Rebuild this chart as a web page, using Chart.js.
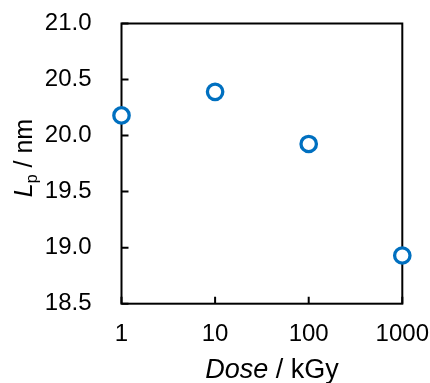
<!DOCTYPE html>
<html>
<head>
<meta charset="utf-8">
<script src="https://cdn.jsdelivr.net/npm/chart.js@4"></script>
<style>
  html, body { margin: 0; padding: 0; background: #fff; }
  #wrap { width: 430px; height: 383px; }
</style>
</head>
<body>
<div id="wrap"><canvas id="c" width="430" height="383"></canvas></div>
<script>
// ---- data ----
const doses = [1, 10, 100, 1000];
const lpValues = [20.18, 20.39, 19.925, 18.93];
const xTickValues = [1, 10, 100, 1000];
const xTickLabels = ["1", "10", "100", "1000"];
const yTickValues = [18.5, 19.0, 19.5, 20.0, 20.5, 21.0];
const yTickLabels = ["18.5", "19.0", "19.5", "20.0", "20.5", "21.0"];

const FONT = "'Liberation Sans', Arial, sans-serif";

const framePlugin = {
  id: 'frame',
  beforeDatasetsDraw(chart) {
    const { ctx, chartArea: a, scales } = chart;
    ctx.save();
    ctx.strokeStyle = '#000';
    ctx.lineWidth = 2;
    ctx.strokeRect(a.left, a.top, a.right - a.left, a.bottom - a.top);
    ctx.beginPath();
    yTickValues.forEach(v => {
      const y = scales.y.getPixelForValue(v);
      ctx.moveTo(a.left, y);
      ctx.lineTo(a.left + 7, y);
    });
    xTickValues.forEach(v => {
      const x = scales.x.getPixelForValue(v);
      ctx.moveTo(x, a.bottom);
      ctx.lineTo(x, a.bottom - 7);
    });
    ctx.stroke();
    ctx.restore();
  },
  afterDraw(chart) {
    const { ctx } = chart;
    ctx.save();
    ctx.fillStyle = '#000';
    ctx.textBaseline = 'alphabetic';
    ctx.textAlign = 'left';
    const xParts = [
      { t: 'Dose', f: 'italic 27px ' + FONT, dy: 0 },
      { t: ' / kGy', f: '27px ' + FONT, dy: 0 }
    ];
    let w = 0;
    xParts.forEach(p => { ctx.font = p.f; p.w = ctx.measureText(p.t).width; w += p.w; });
    let x = 272 - w / 2;
    xParts.forEach(p => { ctx.font = p.f; ctx.fillText(p.t, x, 378 + p.dy); x += p.w; });
    const yParts = [
      { t: 'L', f: 'italic 25px ' + FONT, dy: 0 },
      { t: 'p', f: '16px ' + FONT, dy: 5 },
      { t: ' / nm', f: '25px ' + FONT, dy: 0 }
    ];
    w = 0;
    yParts.forEach(p => { ctx.font = p.f; p.w = ctx.measureText(p.t).width; w += p.w; });
    ctx.translate(32, 158);
    ctx.rotate(-Math.PI / 2);
    x = -w / 2;
    yParts.forEach(p => { ctx.font = p.f; ctx.fillText(p.t, x, p.dy); x += p.w; });
    ctx.restore();
  }
};

const hiddenTicks = (len) => ({
  display: true,
  drawOnChartArea: false,
  drawTicks: true,
  tickLength: len,
  tickColor: 'rgba(0,0,0,0)',
  color: 'rgba(0,0,0,0)'
});

new Chart(document.getElementById('c'), {
  type: 'scatter',
  data: {
    datasets: [{
      data: doses.map((d, i) => ({ x: d, y: lpValues[i] })),
      pointRadius: 7.7,
      pointHoverRadius: 7.7,
      pointBorderWidth: 3.3,
      pointBorderColor: '#0070C0',
      pointBackgroundColor: '#ffffff',
      showLine: false,
      clip: false
    }]
  },
  options: {
    responsive: false,
    animation: false,
    devicePixelRatio: 1,
    layout: { padding: { left: 0, top: 23.5, right: 27.7, bottom: 0 } },
    plugins: { legend: { display: false }, tooltip: { enabled: false } },
    scales: {
      x: {
        type: 'logarithmic',
        min: 1,
        max: 1000,
        afterBuildTicks(scale) { scale.ticks = xTickValues.map(v => ({ value: v })); },
        afterFit(scale) { scale.height = 79.3; },
        grid: hiddenTicks(16),
        border: { display: false },
        ticks: {
          padding: 0,
          color: '#000',
          font: { family: FONT, size: 24 },
          maxRotation: 0,
          autoSkip: false,
          callback(v) { const i = xTickValues.indexOf(v); return i >= 0 ? xTickLabels[i] : ''; }
        }
      },
      y: {
        type: 'linear',
        min: 18.5,
        max: 21.0,
        afterBuildTicks(scale) { scale.ticks = yTickValues.map(v => ({ value: v })); },
        afterFit(scale) { scale.width = 121.5; },
        grid: hiddenTicks(30),
        border: { display: false },
        ticks: {
          padding: 0,
          color: '#000',
          font: { family: FONT, size: 24 },
          autoSkip: false,
          callback(v) { const i = yTickValues.findIndex(t => Math.abs(t - v) < 1e-9); return i >= 0 ? yTickLabels[i] : ''; }
        }
      }
    }
  },
  plugins: [framePlugin]
});
</script>
</body>
</html>
